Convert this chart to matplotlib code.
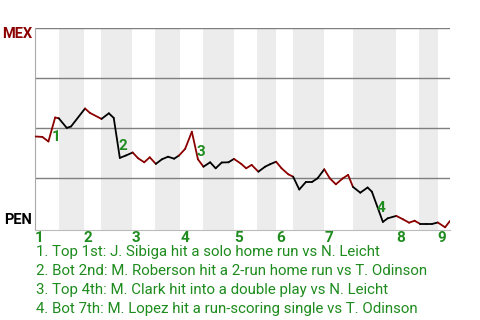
import numpy as np
import matplotlib.pyplot as plt
import matplotlib.transforms as mtransforms

plt.rcParams['font.family'] = ['Roboto', 'DejaVu Sans']

# play index (plate appearances) and MEX win probability
play = [0.1, 1.2, 2.2, 3.3, 3.9, 5.2, 5.9, 8.2, 9.0, 10.9,
        12.1, 12.9, 13.9, 14.9, 16.0, 16.9, 17.9, 18.8, 19.8, 20.8,
        21.8, 22.8, 23.6, 24.6, 25.7, 26.7, 27.6, 28.7, 29.6, 30.6,
        31.7, 32.6, 33.8, 34.6, 35.5, 36.6, 37.7, 38.5, 39.5, 40.4,
        41.5, 42.3, 43.3, 44.4, 45.4, 46.3, 47.4, 48.3, 49.3, 50.4,
        51.3, 52.1, 53.3, 54.5, 55.2, 57.0, 57.8, 59.2, 60.3, 61.3,
        62.2, 63.1, 64.1, 65.1, 66.0, 67.2, 68.0]
win_prob = [0.459, 0.457, 0.434, 0.554, 0.550, 0.502, 0.509, 0.599, 0.577, 0.547,
            0.575, 0.552, 0.352, 0.364, 0.379, 0.350, 0.330, 0.355, 0.322, 0.345,
            0.358, 0.348, 0.364, 0.397, 0.483, 0.345, 0.308, 0.330, 0.300, 0.329,
            0.330, 0.347, 0.322, 0.300, 0.317, 0.283, 0.308, 0.320, 0.333, 0.300,
            0.270, 0.258, 0.194, 0.232, 0.232, 0.250, 0.295, 0.250, 0.220, 0.249,
            0.267, 0.207, 0.178, 0.204, 0.183, 0.032, 0.050, 0.062, 0.045, 0.028,
            0.038, 0.022, 0.022, 0.022, 0.029, 0.005, 0.037]

# where each half inning starts (top 1st, bot 1st, ... top 9th)
half_starts = [0, 3.9, 8.0, 10.8, 15.9, 19.7, 23.8, 27.5, 32.6, 36.4,
               39.5, 42.3, 47.4, 52.1, 59.2, 62.9, 66.0]
innings = ['1', '2', '3', '4', '5', '6', '7', '8', '9']
game_end = 68

events = [
    '1. Top 1st: J. Sibiga hit a solo home run vs N. Leicht',
    '2. Bot 2nd: M. Roberson hit a 2-run home run vs T. Odinson',
    '3. Top 4th: M. Clark hit into a double play vs N. Leicht',
    '4. Bot 7th: M. Lopez hit a run-scoring single vs T. Odinson',
]
event_labels = ['1', '2', '3', '4']
event_label_x = [3.5, 14.4, 27.2, 56.7]
event_label_y = [0.458, 0.412, 0.383, 0.10]

MEX_RED = '#8b0000'
GREEN = '#1e8c1e'

fig = plt.figure(figsize=(4.8, 3.2), dpi=100)
ax = fig.add_axes([35 / 480, 1 - 230 / 320, 415 / 480, 201.7 / 320])
ax.set_xlim(0, game_end)
ax.set_ylim(-0.0085, 1.0)

# shade the bottom halves
bounds = half_starts + [game_end]
for i in range(len(half_starts)):
    if i % 2 == 1:
        ax.axvspan(bounds[i], bounds[i + 1], color='#ececec', lw=0, zorder=0)

for y in [0.25, 0.5, 0.75, 1.0]:
    ax.axhline(y, color='#7f7f7f', lw=1.0, zorder=1)

# red while MEX bats (top), black while PEN bats (bottom)
for i in range(len(play) - 1):
    mid = (play[i] + play[i + 1]) / 2
    half = np.searchsorted(half_starts, mid, side='right') - 1
    color = MEX_RED if half % 2 == 0 else 'black'
    ax.plot(play[i:i + 2], win_prob[i:i + 2], color=color, lw=1.3,
            solid_capstyle='round', zorder=3)

for lab, x, y in zip(event_labels, event_label_x, event_label_y):
    ax.text(x, y, lab, color=GREEN, fontsize=11, fontweight='bold',
            ha='center', va='center', zorder=4)

for sp in ['top', 'right']:
    ax.spines[sp].set_visible(False)
ax.spines['left'].set_color('#aaaaaa')
ax.spines['bottom'].set_color('#bbbbbb')
ax.set_xticks([])
ax.set_yticks([])

trans = ax.get_xaxis_transform()
for lab, x in zip(innings, half_starts[::2]):
    ax.text(x, -0.04, lab, transform=trans, color=GREEN, fontsize=11,
            fontweight='bold', ha='left', va='center')

fig.text(32 / 480, 1 - 34.5 / 320, 'MEX', color=MEX_RED, fontsize=10.5,
         fontweight='bold', ha='right', va='center')
fig.text(32 / 480, 1 - 220 / 320, 'PEN', color='black', fontsize=10.5,
         fontweight='bold', ha='right', va='center')

for i, ev in enumerate(events):
    fig.text(36 / 480, 1 - (252 + 19 * i) / 320, ev, color=GREEN,
             fontsize=10.8, ha='left', va='center')

fig.savefig('out.png', dpi=100)
